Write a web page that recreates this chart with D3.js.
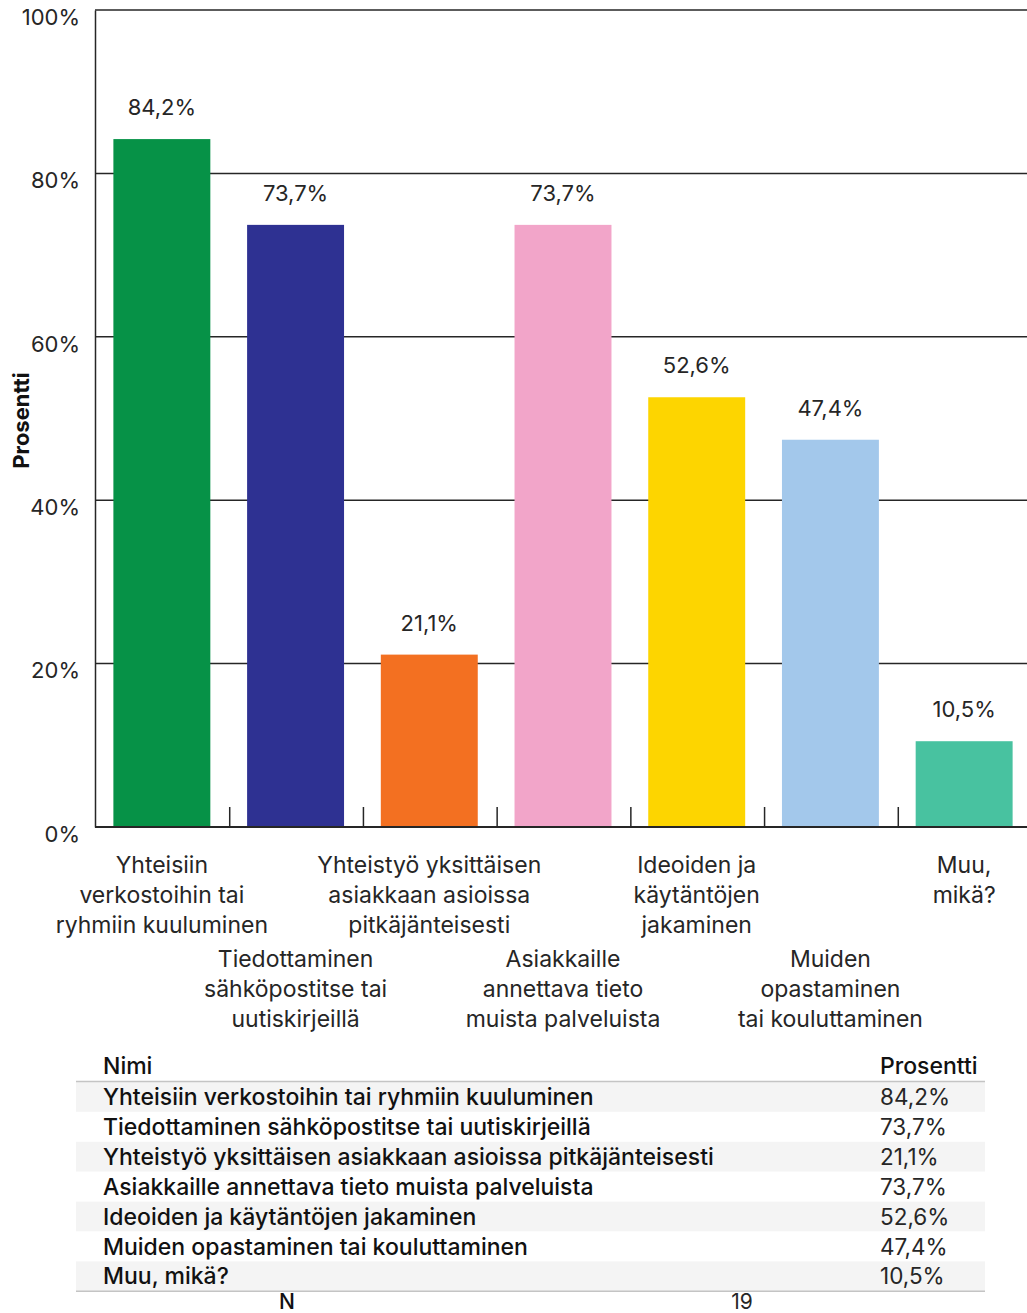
<!DOCTYPE html>
<html>
<head>
<meta charset="utf-8">
<script src="https://cdn.jsdelivr.net/npm/d3@7"></script>
<style>
  html, body { margin: 0; padding: 0; background: #fff; }
  svg { display: block; font-family: Inter, "Noto Sans", sans-serif; }
</style>
</head>
<body>
<svg id="chart" width="1027" height="1313"></svg>
<script>
// Vastausvaihtoehdot ja niiden osuudet (%)
const categories = [
  "Yhteisiin verkostoihin tai ryhmiin kuuluminen",
  "Tiedottaminen sähköpostitse tai uutiskirjeillä",
  "Yhteistyö yksittäisen asiakkaan asioissa pitkäjänteisesti",
  "Asiakkaille annettava tieto muista palveluista",
  "Ideoiden ja käytäntöjen jakaminen",
  "Muiden opastaminen tai kouluttaminen",
  "Muu, mikä?"
];
const axisLabelLines = [
  ["Yhteisiin", "verkostoihin tai", "ryhmiin kuuluminen"],
  ["Tiedottaminen", "sähköpostitse tai", "uutiskirjeillä"],
  ["Yhteistyö yksittäisen", "asiakkaan asioissa", "pitkäjänteisesti"],
  ["Asiakkaille", "annettava tieto", "muista palveluista"],
  ["Ideoiden ja", "käytäntöjen", "jakaminen"],
  ["Muiden", "opastaminen", "tai kouluttaminen"],
  ["Muu,", "mikä?"]
];
const values = [84.2, 73.7, 21.1, 73.7, 52.6, 47.4, 10.5];
const barColors = ["#069247", "#2e3192", "#f37021", "#f2a5c9", "#fdd500", "#a3c8eb", "#48c2a0"];
const yTicks = [0, 20, 40, 60, 80, 100];
const respondentCount = 19;

const fi = d3.formatLocale({ decimal: ",", thousands: "\u00a0", grouping: [3], currency: ["", " €"] });
const pct = v => fi.format(".1f")(v) + "%";

const svg = d3.select("#chart");
const W = 1027;
const plot = { left: 95, top: 10, bottom: 827, right: 1031 };
const ink = "#262626";

const x = d3.scaleBand()
  .domain(categories)
  .range([plot.left, plot.right])
  .paddingInner(0.275)
  .paddingOuter(0.1375);

const y = d3.scaleLinear().domain([0, 100]).range([plot.bottom, plot.top]);

// Vaakasuuntaiset apuviivat
svg.append("g")
  .selectAll("line")
  .data(yTicks.filter(t => t > 0))
  .join("line")
  .attr("x1", plot.left).attr("x2", W)
  .attr("y1", d => y(d)).attr("y2", d => y(d))
  .attr("stroke", ink).attr("stroke-width", 1.5);

// Y-akseli
const yAxis = svg.append("g")
  .attr("transform", `translate(${plot.left},0)`)
  .call(d3.axisLeft(y).tickValues(yTicks).tickSize(0).tickPadding(15).tickFormat(d => d + "%"));
yAxis.select(".domain").attr("stroke", ink).attr("stroke-width", 1.5);
yAxis.selectAll("text")
  .attr("font-size", 22).attr("fill", ink)
  .attr("dy", "0.65em")
  .attr("font-family", "Inter, 'Noto Sans', sans-serif");

svg.append("text")
  .attr("transform", `translate(29,${(plot.top + plot.bottom) / 2 + 2}) rotate(-90)`)
  .attr("text-anchor", "middle")
  .attr("font-size", 22).attr("font-weight", 700).attr("fill", "#111")
  .text("Prosentti");

// Pylväät
svg.append("g")
  .selectAll("rect")
  .data(values)
  .join("rect")
  .attr("x", (d, i) => x(categories[i]))
  .attr("width", x.bandwidth())
  .attr("y", d => y(d))
  .attr("height", d => y(0) - y(d))
  .attr("fill", (d, i) => barColors[i]);

// Arvot pylväiden yläpuolella
svg.append("g")
  .selectAll("text")
  .data(values)
  .join("text")
  .attr("x", (d, i) => x(categories[i]) + x.bandwidth() / 2)
  .attr("y", d => y(d) - 24)
  .attr("text-anchor", "middle")
  .attr("font-size", 22).attr("fill", ink)
  .text(d => pct(d));

// X-akseli ja jakoviivat pylväiden välissä
svg.append("line")
  .attr("x1", plot.left).attr("x2", W)
  .attr("y1", y(0)).attr("y2", y(0))
  .attr("stroke", ink).attr("stroke-width", 2);

const gap = x.step() - x.bandwidth();
svg.append("g")
  .selectAll("line")
  .data(categories.slice(1))
  .join("line")
  .attr("x1", d => x(d) - gap / 2 + 1).attr("x2", d => x(d) - gap / 2 + 1)
  .attr("y1", y(0)).attr("y2", y(0) - 20)
  .attr("stroke", ink).attr("stroke-width", 1.5);

// Luokkien nimet kahdessa porrastetussa rivissä
const labels = svg.append("g")
  .selectAll("text")
  .data(categories)
  .join("text")
  .attr("text-anchor", "middle")
  .attr("font-size", 23).attr("fill", ink)
  .attr("x", d => x(d) + x.bandwidth() / 2);
labels.each(function (d, i) {
  const firstBaseline = i % 2 === 0 ? 873 : 967;
  d3.select(this).selectAll("tspan")
    .data(axisLabelLines[i])
    .join("tspan")
    .attr("x", x(d) + x.bandwidth() / 2)
    .attr("y", (l, k) => firstBaseline + k * 30)
    .text(l => l);
});

// Taulukko
const table = { left: 76, right: 985, nameX: 103, valueX: 880, headerY: 1074, firstRow: 1082, rowH: 29.9 };
svg.append("text")
  .attr("x", table.nameX).attr("y", table.headerY)
  .attr("font-size", 23).attr("font-weight", 500).attr("fill", "#111")
  .text("Nimi");
svg.append("text")
  .attr("x", table.valueX).attr("y", table.headerY)
  .attr("font-size", 23).attr("font-weight", 500).attr("fill", "#111")
  .text("Prosentti");

const rows = svg.append("g")
  .selectAll("g")
  .data(categories)
  .join("g")
  .attr("transform", (d, i) => `translate(0,${table.firstRow + i * table.rowH})`);
rows.append("rect")
  .attr("x", table.left).attr("width", table.right - table.left)
  .attr("height", table.rowH)
  .attr("fill", (d, i) => i % 2 === 0 ? "#f4f4f4" : "#ffffff");
rows.append("text")
  .attr("x", table.nameX).attr("y", 23)
  .attr("font-size", 23).attr("font-weight", 500).attr("fill", "#111")
  .text(d => d);
rows.append("text")
  .attr("x", table.valueX).attr("y", 23)
  .attr("font-size", 22.5).attr("fill", ink)
  .text((d, i) => pct(values[i]));

svg.append("line")
  .attr("x1", table.left).attr("x2", table.right)
  .attr("y1", table.firstRow - 0.5).attr("y2", table.firstRow - 0.5)
  .attr("stroke", "#c4c4c4").attr("stroke-width", 1.5);
const tableBottom = table.firstRow + categories.length * table.rowH;
svg.append("line")
  .attr("x1", table.left).attr("x2", table.right)
  .attr("y1", tableBottom).attr("y2", tableBottom)
  .attr("stroke", "#c4c4c4").attr("stroke-width", 1.5);

svg.append("text")
  .attr("x", 287).attr("y", tableBottom + 18)
  .attr("text-anchor", "middle")
  .attr("font-size", 21).attr("font-weight", 500).attr("fill", "#111")
  .text("N");
svg.append("text")
  .attr("x", 742).attr("y", tableBottom + 18)
  .attr("text-anchor", "middle")
  .attr("font-size", 21).attr("fill", ink)
  .text(respondentCount);
</script>
</body>
</html>
